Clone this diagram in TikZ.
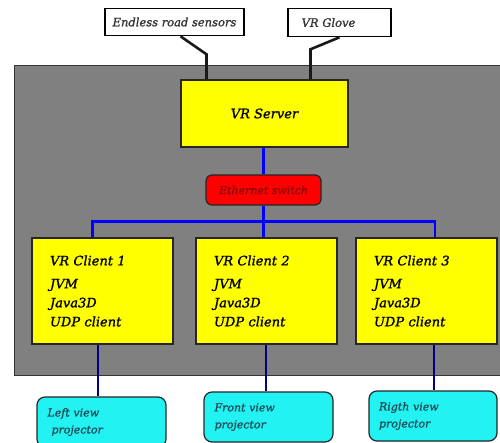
\documentclass[tikz,border=0pt]{standalone}
\usepackage{fontspec}
\setmainfont{DejaVu Serif}[ItalicFeatures={FakeBold=1.2}]
\usetikzlibrary{calc}

\definecolor{panelgray}{HTML}{808080}
\definecolor{boxyellow}{HTML}{FFFF00}
\definecolor{switchred}{HTML}{FF0000}
\definecolor{projcyan}{HTML}{22F2F2}
\definecolor{lanblue}{HTML}{0000FF}
\definecolor{navyline}{HTML}{000080}
\definecolor{switchtext}{HTML}{8A0A0A}
\definecolor{projtext}{HTML}{1E4C58}

\tikzset{
  devbox/.style={draw=black,line width=1.6pt,fill=white,inner sep=0pt,
    text=black!80,font=\fontsize{11.5}{13}\selectfont\itshape},
  yellowbox/.style={draw=black!85,line width=1.4pt,fill=boxyellow,inner sep=0pt,
    text=black,font=\fontsize{13}{19}\selectfont\itshape},
  switchbox/.style={draw=black!85,line width=1.2pt,fill=switchred,rounded corners=6pt,
    inner sep=0pt,text=switchtext,font=\fontsize{11}{12}\selectfont\itshape},
  projbox/.style={draw=black!85,line width=1.2pt,fill=projcyan,rounded corners=8pt,
    inner sep=0pt,text=projtext,font=\fontsize{11}{17}\selectfont\itshape},
  wire/.style={line width=2.6pt,black!90},
  lan/.style={line width=2.6pt,lanblue},
  vga/.style={line width=2.6pt,navyline}
}

\begin{document}
\begin{tikzpicture}[x=1pt,y=-1pt]
  \useasboundingbox (0,0) rectangle (500,443);
  % gray panel
  \fill[panelgray,draw=black!80,line width=0.8pt] (14,65) rectangle (503,375);

  % input devices
  \node[devbox,minimum width=139pt,minimum height=27pt] (sensors) at (174.5,22) {Endless road sensors};
  \node[devbox,minimum width=103pt,minimum height=28pt] (glove) at (339.5,22.5) {\hspace*{-22pt}VR Glove};

  % server and switch
  \node[yellowbox,minimum width=167pt,minimum height=67pt] (server) at (264.5,113.5) {VR Server};
  \node[switchbox,minimum width=115pt,minimum height=30pt] (switch) at (263.5,190) {Ethernet switch};

  % clients
  \foreach \n/\cx in {1/102.5,2/266.5,3/426.5} {
    \node[yellowbox,minimum width=141pt,minimum height=106pt,text width=105pt,align=left]
      (client\n) at (\cx,291) {VR Client \n\\[4pt]JVM\\Java3D\\UDP client};
  }

  % projectors
  \node[projbox,minimum width=129pt,minimum height=50pt,text width=108pt,align=left] (proj1) at (101.5,422)
    {Left view\\\hspace*{4pt}projector};
  \node[projbox,minimum width=129pt,minimum height=50pt,text width=108pt,align=left] (proj2) at (268.5,417)
    {Front view\\projector};
  \node[projbox,minimum width=128pt,minimum height=50pt,text width=108pt,align=left] (proj3) at (433,416)
    {Rigth view\\projector};

  % device cables
  \draw[wire] ([xshift=6pt]sensors.south) -- ([xshift=-58pt,yshift=25pt]server.north) -- ([xshift=-58pt]server.north);
  \draw[wire] (glove.south) -- ([xshift=46pt,yshift=30pt]server.north) -- ([xshift=46pt]server.north);

  % network
  \draw[lan] ([xshift=-1pt]server.south) -- (switch.north);
  \coordinate (bus) at ($(switch.south)+(0,16)$);
  \draw[lan] (switch.south) -- (bus);
  \draw[lan] ([xshift=-10pt]client1.north) |- (bus) -| ([xshift=8.5pt]client3.north);
  \draw[lan] (bus) -- (bus |- client2.north);

  % projector cables
  \foreach \n/\dx in {1/-4.5,2/-0.5,3/7.5} {
    \draw[vga] ([xshift=\dx pt]client\n.south) -- ([xshift=\dx pt]client\n.south |- proj\n.north);
  }
\end{tikzpicture}
\end{document}
